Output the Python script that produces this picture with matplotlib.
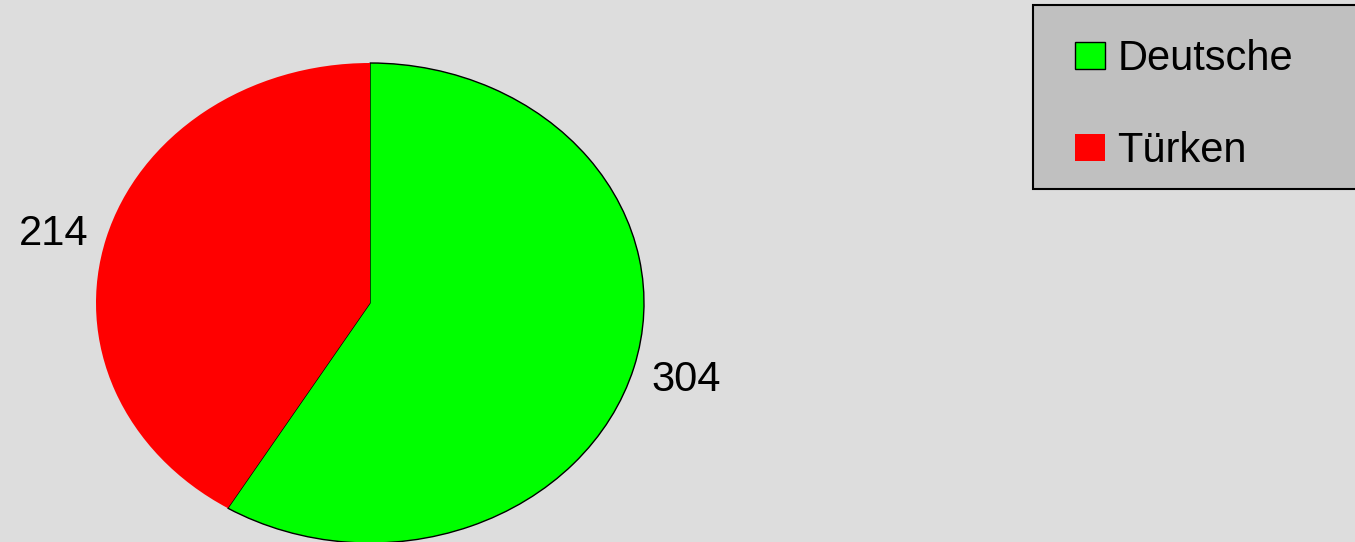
import matplotlib.pyplot as plt
from matplotlib.patches import Rectangle
from matplotlib.transforms import ScaledTranslation

# data
labels = ['Deutsche', 'Türken']
values = [304, 214]
colors = ['#00ff00', '#ff0000']

plt.rcParams['font.family'] = ['Liberation Sans', 'DejaVu Sans']

W, H = 1355, 542
fig = plt.figure(figsize=(W / 100, H / 100), dpi=100, facecolor='#dddddd')
ax = fig.add_axes([0, 0, 1, 1])
ax.set_facecolor('#dddddd')

wedges, texts = ax.pie(values, labels=[str(v) for v in values], colors=colors,
                       startangle=90, counterclock=False, labeldistance=1.065,
                       textprops={'fontsize': 30, 'color': 'black'})
wedges[0].set_edgecolor('black')
wedges[0].set_linewidth(1.0)
wedges[1].set_linewidth(0)

# the "304" label sits a little lower in the original
texts[0].set_transform(texts[0].get_transform() +
                       ScaledTranslation(0, -0.08, fig.dpi_scale_trans))

# stretch the pie into an ellipse (rx 274 px, ry 240 px, centre 370,303)
ax.set_aspect('auto')
ax.set_xlim(-370 / 274, (W - 370) / 274)
ax.set_ylim(-(H - 303) / 240, 303 / 240)
ax.axis('off')

# legend box (grey panel running off the right edge)
fig.patches.append(Rectangle((1033 / W, 1 - 189 / H), 330 / W, 184 / H,
                             transform=fig.transFigure, facecolor='#c0c0c0',
                             edgecolor='black', linewidth=1.5, zorder=0))

leg = fig.legend(wedges, labels, loc='upper left',
                 bbox_to_anchor=(1075 / W, 1 - 39 / H),
                 bbox_transform=fig.transFigure, borderaxespad=0,
                 fontsize=30, frameon=False,
                 handlelength=0.72, handleheight=0.62, handletextpad=0.3,
                 labelspacing=1.25, borderpad=0)

fig.savefig('out.png', dpi=100, facecolor='#dddddd')
